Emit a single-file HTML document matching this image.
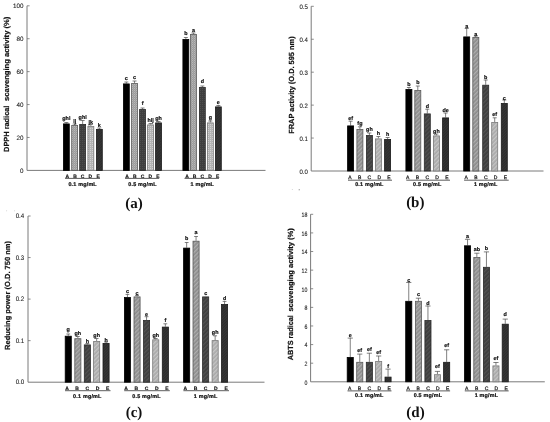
<!DOCTYPE html>
<html><head><meta charset="utf-8"><style>
html,body{margin:0;padding:0;background:#fff;overflow:hidden;width:550px;height:422px;}
svg{display:block;filter:grayscale(1);text-rendering:geometricPrecision;}
.ax{fill:none;stroke:#7a7a7a;stroke-width:1;}
.tk{fill:none;stroke:#6e6e6e;stroke-width:0.8;}
.eb{fill:none;stroke:#4a4a4a;stroke-width:0.7;}
.ul{fill:none;stroke:#333;stroke-width:0.8;}
text{font-family:"Liberation Sans",sans-serif;}
.tl{font-size:6.3px;fill:#222;stroke:#222;stroke-width:0.1px;}
.lt{font-size:5.4px;font-weight:bold;fill:#111;stroke:#111;stroke-width:0.18px;text-anchor:middle;}
.xl{font-size:5.0px;font-weight:bold;fill:#111;stroke:#111;stroke-width:0.15px;text-anchor:middle;}
.xn{font-weight:normal;fill:#222;stroke:#222;stroke-width:0.25px;}
.gl{font-size:5.4px;letter-spacing:0.2px;font-weight:bold;fill:#111;stroke:#111;stroke-width:0.22px;text-anchor:middle;}
.yl{font-size:7.4px;font-weight:bold;fill:#111;text-anchor:middle;stroke:#111;stroke-width:0.2px;}
.pl{font-family:"Liberation Serif",serif;font-size:15px;font-weight:bold;fill:#111;text-anchor:middle;}
</style></head><body>
<svg width="550" height="422" viewBox="0 0 550 422">
<defs>
<pattern id="pB" width="3" height="3" patternUnits="userSpaceOnUse" patternTransform="rotate(45)"><rect width="3" height="3" fill="#8c8c8c"/><rect width="1.3" height="3" fill="#aeaeae"/></pattern>
<pattern id="pC" width="3" height="3" patternUnits="userSpaceOnUse" patternTransform="rotate(45)"><rect width="3" height="3" fill="#3e3e3e"/><rect width="1.3" height="3" fill="#525252"/></pattern>
<pattern id="pD" width="3" height="3" patternUnits="userSpaceOnUse" patternTransform="rotate(45)"><rect width="3" height="3" fill="#aaaaaa"/><rect width="1.3" height="3" fill="#c6c6c6"/></pattern>
<pattern id="pE" width="2" height="2" patternUnits="userSpaceOnUse" patternTransform="rotate(45)"><rect width="2" height="2" fill="#2c2c2c"/><rect width="1" height="2" fill="#363636"/></pattern>
<pattern id="pBa" width="2" height="2" patternUnits="userSpaceOnUse"><rect width="2" height="2" fill="#9c9c9c"/><rect width="1" height="1" fill="#b8b8b8"/><rect x="1" y="1" width="1" height="1" fill="#a8a8a8"/></pattern>
<pattern id="pCa" width="2" height="2" patternUnits="userSpaceOnUse"><rect width="2" height="2" fill="#3e3e3e"/><rect width="1" height="1" fill="#4e4e4e"/></pattern>
<pattern id="pDa" width="2" height="2" patternUnits="userSpaceOnUse"><rect width="2" height="2" fill="#b4b4b4"/><rect width="1" height="1" fill="#d2d2d2"/></pattern>
</defs>
<rect width="550" height="422" fill="#fff"/>
<path d="M27 5.8V170.4H265.5" class="ax"/>
<text x="20.1" y="172.97" class="tl" style="font-size:6.3px;text-anchor:start" textLength="3.5" lengthAdjust="spacingAndGlyphs">0</text>
<path d="M27 137.48h2.6" class="tk"/>
<text x="16.59" y="140.05" class="tl" style="font-size:6.3px;text-anchor:start" textLength="7.01" lengthAdjust="spacingAndGlyphs">20</text>
<path d="M27 104.56h2.6" class="tk"/>
<text x="16.59" y="107.13" class="tl" style="font-size:6.3px;text-anchor:start" textLength="7.01" lengthAdjust="spacingAndGlyphs">40</text>
<path d="M27 71.64h2.6" class="tk"/>
<text x="16.59" y="74.21" class="tl" style="font-size:6.3px;text-anchor:start" textLength="7.01" lengthAdjust="spacingAndGlyphs">60</text>
<path d="M27 38.72h2.6" class="tk"/>
<text x="16.59" y="41.29" class="tl" style="font-size:6.3px;text-anchor:start" textLength="7.01" lengthAdjust="spacingAndGlyphs">80</text>
<path d="M27 5.8h2.6" class="tk"/>
<text x="13.09" y="8.37" class="tl" style="font-size:6.3px;text-anchor:start" textLength="10.51" lengthAdjust="spacingAndGlyphs">100</text>
<path d="M66.35 123.5V122.5M64.35 122.5h4" class="eb"/>
<rect x="63.4" y="123.9" width="5.9" height="46.5" fill="#000000" stroke="#000000" stroke-width="0.8"/>
<text x="66.35" y="120.3" class="lt">ghi</text>
<path d="M74.65 125V124M72.65 124h4" class="eb"/>
<rect x="71.7" y="125.4" width="5.9" height="45" fill="url(#pBa)" stroke="#5a5a5a" stroke-width="0.8"/>
<text x="74.65" y="122.8" class="lt">ij</text>
<path d="M82.65 124V120.5M80.65 120.5h4" class="eb"/>
<rect x="79.7" y="124.4" width="5.9" height="46" fill="url(#pCa)" stroke="#2a2a2a" stroke-width="0.8"/>
<text x="82.65" y="118.8" class="lt">ghi</text>
<path d="M90.85 126V124.5M88.85 124.5h4" class="eb"/>
<rect x="87.9" y="126.4" width="5.9" height="44" fill="url(#pDa)" stroke="#7a7a7a" stroke-width="0.8"/>
<text x="90.85" y="124.3" class="lt">jk</text>
<path d="M99.35 129V128M97.35 128h4" class="eb"/>
<rect x="96.4" y="129.4" width="5.9" height="41" fill="url(#pE)" stroke="#1a1a1a" stroke-width="0.8"/>
<text x="99.35" y="127" class="lt">k</text>
<text x="67.25" y="177.6" class="xl">A</text>
<text x="74.95" y="177.6" class="xl">B</text>
<text x="82.65" y="177.6" class="xl">C</text>
<text x="90.35" y="177.6" class="xl">D</text>
<text x="98.05" y="177.6" class="xl">E</text>
<path d="M65 178.4H100" class="ul"/>
<text x="82.65" y="186.2" class="gl">0.1 mg/mL</text>
<path d="M126.35 83.5V82M124.35 82h4" class="eb"/>
<rect x="123.4" y="83.9" width="5.9" height="86.5" fill="#000000" stroke="#000000" stroke-width="0.8"/>
<text x="126.35" y="79.5" class="lt">c</text>
<path d="M134.55 83V81M132.55 81h4" class="eb"/>
<rect x="131.6" y="83.4" width="5.9" height="87" fill="url(#pBa)" stroke="#5a5a5a" stroke-width="0.8"/>
<text x="134.55" y="79" class="lt">c</text>
<path d="M142.55 109V108M140.55 108h4" class="eb"/>
<rect x="139.6" y="109.4" width="5.9" height="61" fill="url(#pCa)" stroke="#2a2a2a" stroke-width="0.8"/>
<text x="142.55" y="105" class="lt">f</text>
<path d="M150.55 124.5V123.5M148.55 123.5h4" class="eb"/>
<rect x="147.6" y="124.9" width="5.9" height="45.5" fill="url(#pDa)" stroke="#7a7a7a" stroke-width="0.8"/>
<text x="150.55" y="122" class="lt">hij</text>
<path d="M158.55 122.5V121.5M156.55 121.5h4" class="eb"/>
<rect x="155.6" y="122.9" width="5.9" height="47.5" fill="url(#pE)" stroke="#1a1a1a" stroke-width="0.8"/>
<text x="158.55" y="120" class="lt">gh</text>
<text x="127.15" y="177.6" class="xl">A</text>
<text x="134.85" y="177.6" class="xl">B</text>
<text x="142.55" y="177.6" class="xl">C</text>
<text x="150.25" y="177.6" class="xl">D</text>
<text x="157.95" y="177.6" class="xl">E</text>
<path d="M125 178.4H159.2" class="ul"/>
<text x="142.55" y="186.2" class="gl">0.5 mg/mL</text>
<path d="M185.85 39V37.5M183.85 37.5h4" class="eb"/>
<rect x="182.9" y="39.4" width="5.9" height="131" fill="#000000" stroke="#000000" stroke-width="0.8"/>
<text x="185.85" y="35" class="lt">b</text>
<path d="M193.45 34V33M191.45 33h4" class="eb"/>
<rect x="190.5" y="34.4" width="5.9" height="136" fill="url(#pBa)" stroke="#5a5a5a" stroke-width="0.8"/>
<text x="193.45" y="31.5" class="lt">a</text>
<path d="M202.35 87V86M200.35 86h4" class="eb"/>
<rect x="199.4" y="87.4" width="5.9" height="83" fill="url(#pCa)" stroke="#2a2a2a" stroke-width="0.8"/>
<text x="202.35" y="83" class="lt">d</text>
<path d="M210.35 122.5V121M208.35 121h4" class="eb"/>
<rect x="207.4" y="122.9" width="5.9" height="47.5" fill="url(#pDa)" stroke="#7a7a7a" stroke-width="0.8"/>
<text x="210.35" y="118.5" class="lt">g</text>
<path d="M218.35 106.5V105.5M216.35 105.5h4" class="eb"/>
<rect x="215.4" y="106.9" width="5.9" height="63.5" fill="url(#pE)" stroke="#1a1a1a" stroke-width="0.8"/>
<text x="218.35" y="104" class="lt">e</text>
<text x="186.95" y="177.6" class="xl">A</text>
<text x="194.65" y="177.6" class="xl">B</text>
<text x="202.35" y="177.6" class="xl">C</text>
<text x="210.05" y="177.6" class="xl">D</text>
<text x="217.75" y="177.6" class="xl">E</text>
<path d="M184.5 178.4H219" class="ul"/>
<text x="202.35" y="186.2" class="gl">1 mg/mL</text>
<text transform="translate(9.1 128.75) rotate(-90)" x="0" y="0" class="yl" textLength="46.3" lengthAdjust="spacingAndGlyphs">DPPH radical</text>
<text transform="translate(9.1 58.85) rotate(-90)" x="0" y="0" class="yl" textLength="84.5" lengthAdjust="spacingAndGlyphs">scavenging activity (%)</text>
<text x="134" y="207.6" class="pl">(a)</text>
<path d="M311.2 6.3V171H543.5" class="ax"/>
<text x="299.4" y="173.94" class="tl" style="font-size:6.5px;text-anchor:start" textLength="8.4" lengthAdjust="spacingAndGlyphs">0.0</text>
<path d="M311.2 138.06h2.6" class="tk"/>
<text x="299.4" y="141" class="tl" style="font-size:6.5px;text-anchor:start" textLength="8.4" lengthAdjust="spacingAndGlyphs">0.1</text>
<path d="M311.2 105.12h2.6" class="tk"/>
<text x="299.4" y="108.06" class="tl" style="font-size:6.5px;text-anchor:start" textLength="8.4" lengthAdjust="spacingAndGlyphs">0.2</text>
<path d="M311.2 72.18h2.6" class="tk"/>
<text x="299.4" y="75.12" class="tl" style="font-size:6.5px;text-anchor:start" textLength="8.4" lengthAdjust="spacingAndGlyphs">0.3</text>
<path d="M311.2 39.24h2.6" class="tk"/>
<text x="299.4" y="42.18" class="tl" style="font-size:6.5px;text-anchor:start" textLength="8.4" lengthAdjust="spacingAndGlyphs">0.4</text>
<path d="M311.2 6.3h2.6" class="tk"/>
<text x="299.4" y="9.24" class="tl" style="font-size:6.5px;text-anchor:start" textLength="8.4" lengthAdjust="spacingAndGlyphs">0.5</text>
<path d="M350.6 125.5V121.2M348.6 121.2h4" class="eb"/>
<rect x="347.6" y="125.9" width="6" height="45.1" fill="#000000" stroke="#000000" stroke-width="0.8"/>
<text x="350.6" y="119.5" class="lt">ef</text>
<path d="M359.9 129V126.8M357.9 126.8h4" class="eb"/>
<rect x="356.9" y="129.4" width="6" height="41.6" fill="url(#pB)" stroke="#5a5a5a" stroke-width="0.8"/>
<text x="359.9" y="124.8" class="lt">fg</text>
<path d="M369.4 135V133M367.4 133h4" class="eb"/>
<rect x="366.4" y="135.4" width="6" height="35.6" fill="url(#pC)" stroke="#2a2a2a" stroke-width="0.8"/>
<text x="369.4" y="131.2" class="lt">gh</text>
<path d="M378.4 138.5V136.5M376.4 136.5h4" class="eb"/>
<rect x="375.4" y="138.9" width="6" height="32.1" fill="url(#pD)" stroke="#7a7a7a" stroke-width="0.8"/>
<text x="378.4" y="134.5" class="lt">h</text>
<path d="M387.6 139V137.5M385.6 137.5h4" class="eb"/>
<rect x="384.6" y="139.4" width="6" height="31.6" fill="url(#pE)" stroke="#1a1a1a" stroke-width="0.8"/>
<text x="387.6" y="136" class="lt">h</text>
<text x="349.8" y="179" class="xl xn">A</text>
<text x="359.6" y="179" class="xl xn">B</text>
<text x="369.4" y="179" class="xl xn">C</text>
<text x="379.2" y="179" class="xl xn">D</text>
<text x="389" y="179" class="xl xn">E</text>
<path d="M348 180.2H392" class="ul"/>
<text x="369.4" y="186.2" class="gl">0.1 mg/mL</text>
<path d="M408.9 89V87.5M406.9 87.5h4" class="eb"/>
<rect x="405.9" y="89.4" width="6" height="81.6" fill="#000000" stroke="#000000" stroke-width="0.8"/>
<text x="408.9" y="85.8" class="lt">b</text>
<path d="M417.8 90V86M415.8 86h4" class="eb"/>
<rect x="414.8" y="90.4" width="6" height="80.6" fill="url(#pB)" stroke="#5a5a5a" stroke-width="0.8"/>
<text x="417.8" y="84" class="lt">b</text>
<path d="M427.3 113.5V109.2M425.3 109.2h4" class="eb"/>
<rect x="424.3" y="113.9" width="6" height="57.1" fill="url(#pC)" stroke="#2a2a2a" stroke-width="0.8"/>
<text x="427.3" y="107.5" class="lt">d</text>
<path d="M436.4 135.5V134M434.4 134h4" class="eb"/>
<rect x="433.4" y="135.9" width="6" height="35.1" fill="url(#pD)" stroke="#7a7a7a" stroke-width="0.8"/>
<text x="436.4" y="132.6" class="lt">gh</text>
<path d="M445.6 117.5V113M443.6 113h4" class="eb"/>
<rect x="442.6" y="117.9" width="6" height="53.1" fill="url(#pE)" stroke="#1a1a1a" stroke-width="0.8"/>
<text x="445.6" y="111.8" class="lt">de</text>
<text x="407.7" y="179" class="xl xn">A</text>
<text x="417.5" y="179" class="xl xn">B</text>
<text x="427.3" y="179" class="xl xn">C</text>
<text x="437.1" y="179" class="xl xn">D</text>
<text x="446.9" y="179" class="xl xn">E</text>
<path d="M406.3 180.2H450" class="ul"/>
<text x="427.3" y="186.2" class="gl">0.5 mg/mL</text>
<path d="M466.7 36.5V28.5M464.7 28.5h4" class="eb"/>
<rect x="463.7" y="36.9" width="6" height="134.1" fill="#000000" stroke="#000000" stroke-width="0.8"/>
<text x="466.7" y="28.2" class="lt">a</text>
<path d="M475.8 37V36M473.8 36h4" class="eb"/>
<rect x="472.8" y="37.4" width="6" height="133.6" fill="url(#pB)" stroke="#5a5a5a" stroke-width="0.8"/>
<text x="475.8" y="36" class="lt">a</text>
<path d="M485.7 84.8V80M483.7 80h4" class="eb"/>
<rect x="482.7" y="85.2" width="6" height="85.8" fill="url(#pC)" stroke="#2a2a2a" stroke-width="0.8"/>
<text x="485.7" y="78.5" class="lt">b</text>
<path d="M494.7 122V117.8M492.7 117.8h4" class="eb"/>
<rect x="491.7" y="122.4" width="6" height="48.6" fill="url(#pD)" stroke="#7a7a7a" stroke-width="0.8"/>
<text x="494.7" y="115.6" class="lt">ef</text>
<path d="M504.3 103V100M502.3 100h4" class="eb"/>
<rect x="501.3" y="103.4" width="6" height="67.6" fill="url(#pE)" stroke="#1a1a1a" stroke-width="0.8"/>
<text x="504.3" y="99.5" class="lt">c</text>
<text x="466.1" y="179" class="xl xn">A</text>
<text x="475.9" y="179" class="xl xn">B</text>
<text x="485.7" y="179" class="xl xn">C</text>
<text x="495.5" y="179" class="xl xn">D</text>
<text x="505.3" y="179" class="xl xn">E</text>
<path d="M464.1 180.2H508.7" class="ul"/>
<text x="485.7" y="186.2" class="gl">1 mg/mL</text>
<text transform="translate(293.8 85.1) rotate(-90)" x="0" y="0" class="yl" textLength="97.4" lengthAdjust="spacingAndGlyphs">FRAP activity (O.D. 595 nm)</text>
<text x="415.3" y="207.4" class="pl">(b)</text>
<path d="M28 216V382.2H264.5" class="ax"/>
<text x="15.67" y="384.28" class="tl" style="font-size:6.6px;text-anchor:start" textLength="8.53" lengthAdjust="spacingAndGlyphs">0.0</text>
<path d="M28 340.65h2.6" class="tk"/>
<text x="15.67" y="342.73" class="tl" style="font-size:6.6px;text-anchor:start" textLength="8.53" lengthAdjust="spacingAndGlyphs">0.1</text>
<path d="M28 299.1h2.6" class="tk"/>
<text x="15.67" y="301.18" class="tl" style="font-size:6.6px;text-anchor:start" textLength="8.53" lengthAdjust="spacingAndGlyphs">0.2</text>
<path d="M28 257.55h2.6" class="tk"/>
<text x="15.67" y="259.63" class="tl" style="font-size:6.6px;text-anchor:start" textLength="8.53" lengthAdjust="spacingAndGlyphs">0.3</text>
<path d="M28 216h2.6" class="tk"/>
<text x="15.67" y="218.08" class="tl" style="font-size:6.6px;text-anchor:start" textLength="8.53" lengthAdjust="spacingAndGlyphs">0.4</text>
<path d="M68.25 335.8V334M66.35 334h3.8" class="eb"/>
<rect x="65.2" y="336.2" width="6.1" height="46" fill="#000000" stroke="#000000" stroke-width="0.8"/>
<text x="68.25" y="331.2" class="lt">g</text>
<path d="M77.85 338.3V336.5M75.95 336.5h3.8" class="eb"/>
<rect x="74.8" y="338.7" width="6.1" height="43.5" fill="url(#pB)" stroke="#5a5a5a" stroke-width="0.8"/>
<text x="77.85" y="334.8" class="lt">gh</text>
<path d="M87.35 344.5V343.5M85.45 343.5h3.8" class="eb"/>
<rect x="84.3" y="344.9" width="6.1" height="37.3" fill="url(#pC)" stroke="#2a2a2a" stroke-width="0.8"/>
<text x="87.35" y="342.8" class="lt">h</text>
<path d="M96.65 341V338.5M94.75 338.5h3.8" class="eb"/>
<rect x="93.6" y="341.4" width="6.1" height="40.8" fill="url(#pD)" stroke="#7a7a7a" stroke-width="0.8"/>
<text x="96.65" y="336.8" class="lt">gh</text>
<path d="M106.05 343V342M104.15 342h3.8" class="eb"/>
<rect x="103" y="343.4" width="6.1" height="38.8" fill="url(#pE)" stroke="#1a1a1a" stroke-width="0.8"/>
<text x="106.05" y="341.8" class="lt">h</text>
<text x="66.95" y="389.6" class="xl">A</text>
<text x="77.15" y="389.6" class="xl">B</text>
<text x="87.35" y="389.6" class="xl">C</text>
<text x="97.55" y="389.6" class="xl">D</text>
<text x="107.75" y="389.6" class="xl">E</text>
<path d="M65 390.7H110.5" class="ul"/>
<text x="87.35" y="397.6" class="gl">0.1 mg/mL</text>
<path d="M127.45 297.1V294.4M125.55 294.4h3.8" class="eb"/>
<rect x="124.4" y="297.5" width="6.1" height="84.7" fill="#000000" stroke="#000000" stroke-width="0.8"/>
<text x="127.45" y="292.8" class="lt">c</text>
<path d="M137.05 296.5V295.5M135.15 295.5h3.8" class="eb"/>
<rect x="134" y="296.9" width="6.1" height="85.3" fill="url(#pB)" stroke="#5a5a5a" stroke-width="0.8"/>
<text x="137.05" y="295" class="lt">c</text>
<path d="M146.55 320V316.7M144.65 316.7h3.8" class="eb"/>
<rect x="143.5" y="320.4" width="6.1" height="61.8" fill="url(#pC)" stroke="#2a2a2a" stroke-width="0.8"/>
<text x="146.55" y="316.2" class="lt">e</text>
<path d="M155.75 339.4V338.5M153.85 338.5h3.8" class="eb"/>
<rect x="152.7" y="339.8" width="6.1" height="42.4" fill="url(#pD)" stroke="#7a7a7a" stroke-width="0.8"/>
<text x="155.75" y="337" class="lt">gh</text>
<path d="M165.35 326.7V323.8M163.45 323.8h3.8" class="eb"/>
<rect x="162.3" y="327.1" width="6.1" height="55.1" fill="url(#pE)" stroke="#1a1a1a" stroke-width="0.8"/>
<text x="165.35" y="321.6" class="lt">f</text>
<text x="126.15" y="389.6" class="xl">A</text>
<text x="136.35" y="389.6" class="xl">B</text>
<text x="146.55" y="389.6" class="xl">C</text>
<text x="156.75" y="389.6" class="xl">D</text>
<text x="166.95" y="389.6" class="xl">E</text>
<path d="M124.2 390.7H169.8" class="ul"/>
<text x="146.55" y="397.6" class="gl">0.5 mg/mL</text>
<path d="M186.65 247.7V242.5M184.75 242.5h3.8" class="eb"/>
<rect x="183.6" y="248.1" width="6.1" height="134.1" fill="#000000" stroke="#000000" stroke-width="0.8"/>
<text x="186.65" y="240.3" class="lt">b</text>
<path d="M196.05 240.8V236.5M194.15 236.5h3.8" class="eb"/>
<rect x="193" y="241.2" width="6.1" height="141" fill="url(#pB)" stroke="#5a5a5a" stroke-width="0.8"/>
<text x="196.05" y="234.3" class="lt">a</text>
<rect x="202.6" y="296.9" width="6.1" height="85.3" fill="url(#pC)" stroke="#2a2a2a" stroke-width="0.8"/>
<text x="205.65" y="294.8" class="lt">c</text>
<path d="M215.15 340.2V335.8M213.25 335.8h3.8" class="eb"/>
<rect x="212.1" y="340.6" width="6.1" height="41.6" fill="url(#pD)" stroke="#7a7a7a" stroke-width="0.8"/>
<text x="215.15" y="334" class="lt">gh</text>
<path d="M224.55 304.1V301.4M222.65 301.4h3.8" class="eb"/>
<rect x="221.5" y="304.5" width="6.1" height="77.7" fill="url(#pE)" stroke="#1a1a1a" stroke-width="0.8"/>
<text x="224.55" y="299.7" class="lt">d</text>
<text x="185.25" y="389.6" class="xl">A</text>
<text x="195.45" y="389.6" class="xl">B</text>
<text x="205.65" y="389.6" class="xl">C</text>
<text x="215.85" y="389.6" class="xl">D</text>
<text x="226.05" y="389.6" class="xl">E</text>
<path d="M183.4 390.7H229" class="ul"/>
<text x="205.65" y="397.6" class="gl">1 mg/mL</text>
<text transform="translate(10.3 295.5) rotate(-90)" x="0" y="0" class="yl" textLength="108.8" lengthAdjust="spacingAndGlyphs">Reducing power (O.D. 750 nm)</text>
<text x="134" y="417.4" class="pl">(c)</text>
<path d="M310.6 214.3V381.8H544.8" class="ax"/>
<text x="304.56" y="384.57" class="tl" style="font-size:6.3px;text-anchor:start" textLength="2.94" lengthAdjust="spacingAndGlyphs">0</text>
<path d="M310.6 363.19h2.6" class="tk"/>
<text x="304.56" y="365.96" class="tl" style="font-size:6.3px;text-anchor:start" textLength="2.94" lengthAdjust="spacingAndGlyphs">2</text>
<path d="M310.6 344.58h2.6" class="tk"/>
<text x="304.56" y="347.35" class="tl" style="font-size:6.3px;text-anchor:start" textLength="2.94" lengthAdjust="spacingAndGlyphs">4</text>
<path d="M310.6 325.97h2.6" class="tk"/>
<text x="304.56" y="328.73" class="tl" style="font-size:6.3px;text-anchor:start" textLength="2.94" lengthAdjust="spacingAndGlyphs">6</text>
<path d="M310.6 307.36h2.6" class="tk"/>
<text x="304.56" y="310.12" class="tl" style="font-size:6.3px;text-anchor:start" textLength="2.94" lengthAdjust="spacingAndGlyphs">8</text>
<path d="M310.6 288.74h2.6" class="tk"/>
<text x="301.62" y="291.51" class="tl" style="font-size:6.3px;text-anchor:start" textLength="5.88" lengthAdjust="spacingAndGlyphs">10</text>
<path d="M310.6 270.13h2.6" class="tk"/>
<text x="301.62" y="272.9" class="tl" style="font-size:6.3px;text-anchor:start" textLength="5.88" lengthAdjust="spacingAndGlyphs">12</text>
<path d="M310.6 251.52h2.6" class="tk"/>
<text x="301.62" y="254.29" class="tl" style="font-size:6.3px;text-anchor:start" textLength="5.88" lengthAdjust="spacingAndGlyphs">14</text>
<path d="M310.6 232.91h2.6" class="tk"/>
<text x="301.62" y="235.68" class="tl" style="font-size:6.3px;text-anchor:start" textLength="5.88" lengthAdjust="spacingAndGlyphs">16</text>
<path d="M310.6 214.3h2.6" class="tk"/>
<text x="301.62" y="217.07" class="tl" style="font-size:6.3px;text-anchor:start" textLength="5.88" lengthAdjust="spacingAndGlyphs">18</text>
<path d="M350.25 357V338.1M347.65 338.1h5.2" class="eb"/>
<rect x="347.2" y="357.4" width="6.1" height="24.4" fill="#000000" stroke="#000000" stroke-width="0.8"/>
<text x="350.25" y="336.5" class="lt">e</text>
<path d="M359.75 361.9V354.1M357.15 354.1h5.2" class="eb"/>
<rect x="356.7" y="362.3" width="6.1" height="19.5" fill="url(#pB)" stroke="#5a5a5a" stroke-width="0.8"/>
<text x="359.75" y="352.2" class="lt">ef</text>
<path d="M369.35 361.9V353.2M366.75 353.2h5.2" class="eb"/>
<rect x="366.3" y="362.3" width="6.1" height="19.5" fill="url(#pC)" stroke="#2a2a2a" stroke-width="0.8"/>
<text x="369.35" y="351.1" class="lt">ef</text>
<path d="M378.65 361V356M376.05 356h5.2" class="eb"/>
<rect x="375.6" y="361.4" width="6.1" height="20.4" fill="url(#pD)" stroke="#7a7a7a" stroke-width="0.8"/>
<text x="378.65" y="354.1" class="lt">ef</text>
<path d="M388.05 376.7V369.1M385.45 369.1h5.2" class="eb"/>
<rect x="385" y="377.1" width="6.1" height="4.7" fill="url(#pE)" stroke="#1a1a1a" stroke-width="0.8"/>
<text x="388.05" y="367.8" class="lt">f</text>
<text x="349.55" y="389.5" class="xl xn">A</text>
<text x="359.45" y="389.5" class="xl xn">B</text>
<text x="369.35" y="389.5" class="xl xn">C</text>
<text x="379.25" y="389.5" class="xl xn">D</text>
<text x="389.15" y="389.5" class="xl xn">E</text>
<path d="M347.5 390.9H391.5" class="ul"/>
<text x="369.35" y="397" class="gl">0.1 mg/mL</text>
<path d="M408.75 300.9V282.5M406.15 282.5h5.2" class="eb"/>
<rect x="405.7" y="301.3" width="6.1" height="80.5" fill="#000000" stroke="#000000" stroke-width="0.8"/>
<text x="408.75" y="281.6" class="lt">c</text>
<path d="M418.45 300.9V298.2M415.85 298.2h5.2" class="eb"/>
<rect x="415.4" y="301.3" width="6.1" height="80.5" fill="url(#pB)" stroke="#5a5a5a" stroke-width="0.8"/>
<text x="418.45" y="296.3" class="lt">c</text>
<path d="M427.95 320.1V306M425.35 306h5.2" class="eb"/>
<rect x="424.9" y="320.5" width="6.1" height="61.3" fill="url(#pC)" stroke="#2a2a2a" stroke-width="0.8"/>
<text x="427.95" y="304.8" class="lt">d</text>
<path d="M437.45 374.3V371.4M434.85 371.4h5.2" class="eb"/>
<rect x="434.4" y="374.7" width="6.1" height="7.1" fill="url(#pD)" stroke="#7a7a7a" stroke-width="0.8"/>
<text x="437.45" y="367.8" class="lt">ef</text>
<path d="M446.65 361.9V349.8M444.05 349.8h5.2" class="eb"/>
<rect x="443.6" y="362.3" width="6.1" height="19.5" fill="url(#pE)" stroke="#1a1a1a" stroke-width="0.8"/>
<text x="446.65" y="347.2" class="lt">ef</text>
<text x="408.15" y="389.5" class="xl xn">A</text>
<text x="418.05" y="389.5" class="xl xn">B</text>
<text x="427.95" y="389.5" class="xl xn">C</text>
<text x="437.85" y="389.5" class="xl xn">D</text>
<text x="447.75" y="389.5" class="xl xn">E</text>
<path d="M406 390.9H450.1" class="ul"/>
<text x="427.95" y="397" class="gl">0.5 mg/mL</text>
<path d="M467.55 245.4V239.3M464.95 239.3h5.2" class="eb"/>
<rect x="464.5" y="245.8" width="6.1" height="136" fill="#000000" stroke="#000000" stroke-width="0.8"/>
<text x="467.55" y="238.2" class="lt">a</text>
<path d="M476.85 257.1V253.2M474.25 253.2h5.2" class="eb"/>
<rect x="473.8" y="257.5" width="6.1" height="124.3" fill="url(#pB)" stroke="#5a5a5a" stroke-width="0.8"/>
<text x="476.85" y="251.3" class="lt">ab</text>
<path d="M486.45 266.9V251.9M483.85 251.9h5.2" class="eb"/>
<rect x="483.4" y="267.3" width="6.1" height="114.5" fill="url(#pC)" stroke="#2a2a2a" stroke-width="0.8"/>
<text x="486.45" y="250.2" class="lt">b</text>
<path d="M495.95 365.5V362.5M493.35 362.5h5.2" class="eb"/>
<rect x="492.9" y="365.9" width="6.1" height="15.9" fill="url(#pD)" stroke="#7a7a7a" stroke-width="0.8"/>
<text x="495.95" y="360.4" class="lt">ef</text>
<path d="M505.25 323.8V319.1M502.65 319.1h5.2" class="eb"/>
<rect x="502.2" y="324.2" width="6.1" height="57.6" fill="url(#pE)" stroke="#1a1a1a" stroke-width="0.8"/>
<text x="505.25" y="316.1" class="lt">d</text>
<text x="466.65" y="389.5" class="xl xn">A</text>
<text x="476.55" y="389.5" class="xl xn">B</text>
<text x="486.45" y="389.5" class="xl xn">C</text>
<text x="496.35" y="389.5" class="xl xn">D</text>
<text x="506.25" y="389.5" class="xl xn">E</text>
<path d="M464.8 390.9H508.7" class="ul"/>
<text x="486.45" y="397" class="gl">1 mg/mL</text>
<text transform="translate(293.4 337.7) rotate(-90)" x="0" y="0" class="yl" textLength="45.2" lengthAdjust="spacingAndGlyphs">ABTS radical</text>
<text transform="translate(293.4 269.9) rotate(-90)" x="0" y="0" class="yl" textLength="83.4" lengthAdjust="spacingAndGlyphs">scavenging activity (%)</text>
<text x="415.5" y="416.7" class="pl">(d)</text>
<circle cx="299.2" cy="189.7" r="0.55" fill="#666"/><circle cx="292.3" cy="189.6" r="0.5" fill="#ccc"/><circle cx="6.6" cy="210.8" r="0.5" fill="#ccc"/><circle cx="14.6" cy="210.8" r="0.5" fill="#ccc"/>
</svg>
</body></html>
